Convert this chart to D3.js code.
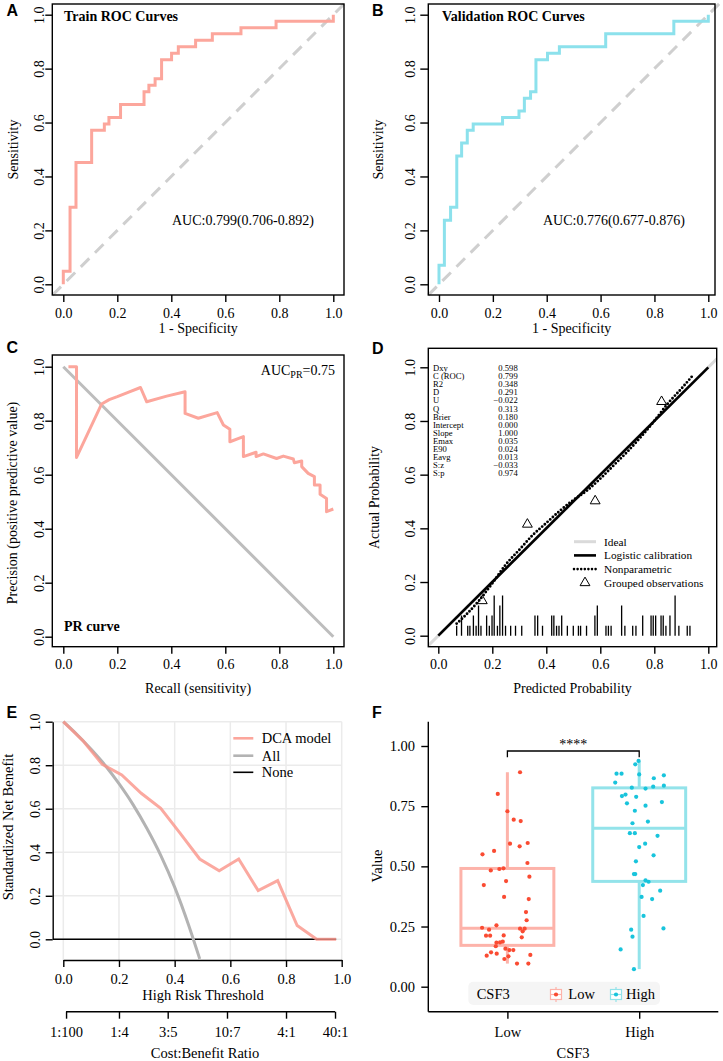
<!DOCTYPE html>
<html><head><meta charset="utf-8">
<script src="https://cdn.jsdelivr.net/npm/d3@7"></script>
<style>body{margin:0;background:#fff}svg{display:block}</style>
</head><body><svg id="c" width="723" height="1061"></svg>
<script>
// ---------------- DATA ----------------
const axisTicks = [0, 0.2, 0.4, 0.6, 0.8, 1.0];
// A: training ROC (staircase vertices)
const trainFpr = [0, 0, 0.025, 0.047, 0.105, 0.152, 0.169, 0.212, 0.299, 0.317, 0.340, 0.364, 0.401, 0.426, 0.490, 0.552, 0.658, 0.788, 1.0, 1.0];
const trainTpr = [0, 0.048, 0.286, 0.452, 0.571, 0.595, 0.619, 0.667, 0.714, 0.738, 0.762, 0.833, 0.857, 0.881, 0.905, 0.929, 0.952, 0.976, 0.976, 1.0];
const trainAuc = "AUC:0.799(0.706-0.892)";
// B: validation ROC
const validFpr = [0, 0, 0.020, 0.043, 0.066, 0.084, 0.105, 0.127, 0.236, 0.297, 0.317, 0.340, 0.360, 0.403, 0.447, 0.619, 0.872, 1.0, 1.0];
const validTpr = [0, 0.071, 0.238, 0.286, 0.476, 0.524, 0.571, 0.595, 0.619, 0.643, 0.690, 0.714, 0.833, 0.857, 0.881, 0.929, 0.976, 0.976, 1.0];
const validAuc = "AUC:0.776(0.677-0.876)";
// C: PR curve
const prRecall = [0.019, 0.049, 0.049, 0.142, 0.17, 0.2, 0.24, 0.286, 0.309, 0.383, 0.451, 0.451, 0.5, 0.57, 0.593, 0.617, 0.617, 0.667, 0.667, 0.714, 0.714, 0.741, 0.79, 0.815, 0.852, 0.856, 0.883, 0.883, 0.907, 0.93, 0.93, 0.951, 0.951, 0.975, 0.975, 1.0];
const prPrecision = [1.0, 1.0, 0.664, 0.862, 0.878, 0.889, 0.905, 0.923, 0.870, 0.891, 0.907, 0.827, 0.809, 0.830, 0.784, 0.768, 0.722, 0.741, 0.667, 0.683, 0.667, 0.677, 0.660, 0.669, 0.658, 0.644, 0.651, 0.630, 0.605, 0.593, 0.562, 0.562, 0.528, 0.512, 0.463, 0.473];
// D: calibration
const statLabels = ["Dxy","C (ROC)","R2","D","U","Q","Brier","Intercept","Slope","Emax","E90","Eavg","S:z","S:p"];
const statValues = ["0.598","0.799","0.348","0.291","\u22120.022","0.313","0.180","0.000","1.000","0.035","0.024","0.013","\u22120.033","0.974"];
const npPred = [0.068, 0.1, 0.15, 0.2, 0.25, 0.3, 0.35, 0.4, 0.45, 0.5, 0.55, 0.6, 0.65, 0.7, 0.75, 0.8, 0.85, 0.9, 0.943];
const npActual = [0.045, 0.075, 0.13, 0.195, 0.265, 0.32, 0.375, 0.42, 0.465, 0.505, 0.54, 0.585, 0.635, 0.685, 0.74, 0.80, 0.865, 0.92, 0.97];
const groupPred = [0.163, 0.33, 0.581, 0.827];
const groupActual = [0.13, 0.415, 0.502, 0.872];
const rugPred = [0.068,0.086,0.109,0.117,0.130,0.140,0.149,0.158,0.179,0.189,0.199,0.207,0.219,0.228,0.238,0.249,0.268,0.286,0.309,0.358,0.368,0.386,0.420,0.428,0.438,0.447,0.457,0.478,0.500,0.519,0.527,0.549,0.580,0.589,0.621,0.630,0.640,0.679,0.691,0.720,0.732,0.757,0.788,0.796,0.805,0.825,0.833,0.843,0.858,0.877,0.891,0.922,0.932];
const rugCount = [1,2,1,1,2,1,3,1,2,1,2,4,1,3,4,1,1,1,1,2,2,1,2,2,1,1,2,1,1,1,1,1,2,3,1,1,1,3,1,1,1,2,2,2,2,2,2,1,2,4,1,1,1];
const calLegend = ["Ideal","Logistic calibration","Nonparametric","Grouped observations"];
// E: decision curve
const dcaThresh = [0, 0.07, 0.14, 0.21, 0.28, 0.35, 0.42, 0.49, 0.56, 0.63, 0.70, 0.77, 0.84, 0.91, 0.98];
const dcaModel = [1.0, 0.913, 0.804, 0.755, 0.671, 0.602, 0.487, 0.369, 0.315, 0.369, 0.224, 0.270, 0.063, 0.0, 0.0];
const allThresh = [0, 0.05, 0.10, 0.15, 0.20, 0.25, 0.30, 0.35, 0.40, 0.45, 0.49];
const allNB = [1.0, 0.94, 0.873, 0.80, 0.715, 0.62, 0.51, 0.386, 0.24, 0.066, -0.09];
const costTicks = [0.0099, 0.2, 0.375, 0.588, 0.8, 0.976];
const costLabels = ["1:100","1:4","3:5","10:7","4:1","40:1"];
const dcaLegend = ["DCA model","All","None"];
// F: boxplot
const groups = ["Low","High"];
const lowValues = [0.891,0.801,0.729,0.694,0.688,0.594,0.583,0.597,0.55,0.564,0.514,0.483,0.489,0.492,0.457,0.439,0.422,0.373,0.364,0.310,0.276,0.245,0.255,0.237,0.241,0.241,0.230,0.212,0.212,0.213,0.205,0.183,0.184,0.187,0.168,0.158,0.152,0.152,0.143,0.137,0.129,0.126,0.115,0.132,0.096,0.096];
const lowJitter = [0.096,-0.073,0,0.048,0.101,0.020,0.093,0.154,-0.189,-0.101,0.152,-0.126,-0.061,-0.030,0.167,-0.010,-0.179,-0.025,0.162,0.141,0.146,-0.192,-0.083,-0.139,0.096,0.131,0.116,-0.162,-0.131,-0.028,0.109,-0.083,-0.056,-0.035,-0.088,-0.015,0.015,0.045,-0.124,-0.081,-0.157,0.008,-0.023,0.174,0.073,0.159];
const highValues = [0.938,0.924,0.885,0.885,0.882,0.866,0.878,0.848,0.827,0.823,0.831,0.835,0.792,0.798,0.789,0.762,0.767,0.752,0.731,0.686,0.679,0.638,0.638,0.627,0.594,0.580,0.546,0.521,0.468,0.468,0.442,0.436,0.422,0.399,0.373,0.364,0.294,0.242,0.237,0.208,0.155,0.073];
const highJitter = [-0.005,-0.030,-0.172,-0.134,0,0.111,0.187,-0.182,-0.056,0.048,0.106,0.187,-0.131,-0.104,-0.023,-0.093,0.172,0.048,-0.033,0.066,-0.051,-0.071,-0.033,0.139,0.045,0,0.109,-0.025,-0.030,-0.040,0.048,0.071,0.028,0.159,0.018,0.098,0.033,0.184,-0.061,-0.051,-0.141,-0.040];
const fTicks = [0, 0.25, 0.5, 0.75, 1.0];

// ---------------- HELPERS ----------------
const svg = d3.select("#c");
const SERIF = '"Liberation Serif","Times New Roman",serif';
const SANS = '"Liberation Sans",Arial,sans-serif';
const SALMON = "#FCA69C", CYAN = "#8CE1EC";
const f1 = d3.format(".1f"), f2 = d3.format(".2f");

function txt(x, y, s, o = {}) {
  return svg.append("text").attr("x", x).attr("y", y)
    .attr("font-family", o.ff || SERIF).attr("font-size", o.fs || 14)
    .attr("font-weight", o.fw || "normal").attr("text-anchor", o.anchor || "start")
    .attr("fill", o.fill || "#000").attr("dy", o.dy || null).text(s);
}
function rtxt(x, y, s, o = {}) {
  return svg.append("text").attr("transform", `translate(${x},${y}) rotate(-90)`)
    .attr("font-family", SERIF).attr("font-size", o.fs || 14).attr("text-anchor", "middle")
    .attr("dy", "0.35em").attr("fill", "#000").text(s);
}
function letter(x, y, s) { txt(x, y, s, {ff: SANS, fw: "bold", fs: 16}); }
function box(b) {
  svg.append("rect").attr("x", b.l).attr("y", b.t).attr("width", b.r - b.l).attr("height", b.b - b.t)
    .attr("fill", "none").attr("stroke", "#000").attr("stroke-width", 1.4);
}
function bottomAxis(scale, y, ticks, fmt, labOff, o = {}) {
  const ax = d3.axisBottom(scale).tickValues(ticks).tickFormat(fmt).tickSize(o.ts || 7).tickSizeOuter(0);
  const g = svg.append("g").attr("transform", `translate(0,${y})`).call(ax)
    .attr("font-family", SERIF).attr("font-size", o.fs || 14);
  if (o.domain) g.select(".domain").attr("stroke", "#000").attr("stroke-width", 1.4);
  else g.select(".domain").remove();
  g.selectAll(".tick line").attr("stroke", "#000").attr("stroke-width", 1.4);
  g.selectAll(".tick text").attr("fill", "#000").attr("y", labOff).attr("dy", "0.35em");
  return g;
}
function leftAxisRot(scale, x, ticks, fmt, labOff, o = {}) {
  const ax = d3.axisLeft(scale).tickValues(ticks).tickFormat(fmt).tickSize(o.ts || 7).tickSizeOuter(0);
  const g = svg.append("g").attr("transform", `translate(${x},0)`).call(ax)
    .attr("font-family", SERIF).attr("font-size", o.fs || 14);
  if (o.domain) g.select(".domain").attr("stroke", "#000").attr("stroke-width", 1.4);
  else g.select(".domain").remove();
  g.selectAll(".tick line").attr("stroke", "#000").attr("stroke-width", 1.4);
  g.selectAll(".tick text").attr("fill", "#000").attr("transform", "rotate(-90)")
    .attr("x", 0).attr("y", -labOff).attr("dy", "0.35em").attr("text-anchor", "middle");
  return g;
}

// ---------------- A & B: ROC ----------------
function rocPanel(p) {
  const x = d3.scaleLinear().domain([0, 1]).range(p.xr);
  const y = d3.scaleLinear().domain([0, 1]).range(p.yr);
  svg.append("path").attr("d", d3.line()([[x(-0.04), y(-0.04)], [x(1.04), y(1.04)]]))
    .attr("stroke", "#CFCFCF").attr("stroke-width", 3).attr("stroke-dasharray", "12,8").attr("fill", "none");
  const pts = p.fpr.map((f, i) => [f, p.tpr[i]]);
  svg.append("path").datum(pts)
    .attr("d", d3.line().x(d => x(d[0])).y(d => y(d[1])).curve(d3.curveStepAfter))
    .attr("stroke", p.color).attr("stroke-width", 3).attr("fill", "none");
  box(p.box);
  bottomAxis(x, p.box.b, axisTicks, f1, 18);
  leftAxisRot(y, p.box.l, axisTicks, f1, p.ylo, {ts: p.ts});
  txt(p.titleX, 20.5, p.title, {fw: "bold", fs: 14});
  txt(p.aucX, 225, p.auc, {fs: 14});
  txt((p.box.l + p.box.r) / 2, 333, "1 - Specificity", {anchor: "middle"});
  rtxt(p.ylabX, (p.box.t + p.box.b) / 2, "Sensitivity");
}
rocPanel({box: {l: 52.3, r: 344, t: 4, b: 295}, xr: [63.3, 333.3], yr: [284.3, 14.7], fpr: trainFpr, tpr: trainTpr,
  color: SALMON, title: "Train ROC Curves", titleX: 64, auc: trainAuc, aucX: 172, ylabX: 13, ylo: 13.3, ts: 7});
rocPanel({box: {l: 428.3, r: 715, t: 4, b: 295}, xr: [439, 708.3], yr: [284.3, 14.7], fpr: validFpr, tpr: validTpr,
  color: CYAN, title: "Validation ROC Curves", titleX: 442, auc: validAuc, aucX: 543, ylabX: 378, ylo: 18.3, ts: 8});
letter(6.5, 16, "A"); letter(372, 16, "B");

// ---------------- C: PR ----------------
(function () {
  const b = {l: 52.3, r: 344, t: 355, b: 646.7};
  const x = d3.scaleLinear().domain([0, 1]).range([63.3, 333.3]);
  const y = d3.scaleLinear().domain([0, 1]).range([636.7, 366.7]);
  svg.append("path").attr("d", d3.line()([[x(0), y(1)], [x(1), y(0)]]))
    .attr("stroke", "#BDBDBD").attr("stroke-width", 3).attr("fill", "none");
  svg.append("path").datum(prRecall.map((r, i) => [r, prPrecision[i]]))
    .attr("d", d3.line().x(d => x(d[0])).y(d => y(d[1])))
    .attr("stroke", SALMON).attr("stroke-width", 3).attr("fill", "none").attr("stroke-linejoin", "round");
  box(b);
  bottomAxis(x, b.b, axisTicks, f1, 17.5);
  leftAxisRot(y, b.l, axisTicks, f1, 13.3);
  const t = svg.append("text").attr("x", 335).attr("y", 375).attr("text-anchor", "end")
    .attr("font-family", SERIF).attr("font-size", 14);
  t.append("tspan").text("AUC");
  t.append("tspan").attr("font-size", 10).attr("dy", 3).text("PR");
  t.append("tspan").attr("dy", -3).text("=0.75");
  txt(64, 631, "PR curve", {fw: "bold"});
  txt((b.l + b.r) / 2, 692.5, "Recall (sensitivity)", {anchor: "middle"});
  rtxt(12.5, 503, "Precision (positive predictive value)");
  letter(6.5, 353, "C");
})();

// ---------------- D: calibration ----------------
(function () {
  const b = {l: 428.3, r: 716.7, t: 348.3, b: 646.7};
  const x = d3.scaleLinear().domain([0, 1]).range([438.3, 708.3]);
  const y = d3.scaleLinear().domain([0, 1]).range([635.7, 367.3]);
  svg.append("clipPath").attr("id", "clipD").append("rect")
    .attr("x", b.l).attr("y", b.t).attr("width", b.r - b.l).attr("height", b.b - b.t);
  const g = svg.append("g").attr("clip-path", "url(#clipD)");
  g.append("path").attr("d", d3.line()([[x(-0.1), y(-0.1)], [x(1.1), y(1.1)]]))
    .attr("stroke", "#DADADA").attr("stroke-width", 3);
  // rug
  g.selectAll("line.rug").data(rugPred).join("line").attr("class", "rug")
    .attr("x1", d => x(d)).attr("x2", d => x(d)).attr("y1", y(0))
    .attr("y2", (d, i) => y(rugCount[i] * 0.0375)).attr("stroke", "#000").attr("stroke-width", 1.3);
  g.append("path").attr("d", d3.line()([[x(0), y(0)], [x(1), y(1)]]))
    .attr("stroke", "#000").attr("stroke-width", 2.6);
  g.append("path").datum(npPred.map((p, i) => [p, npActual[i]]))
    .attr("d", d3.line().x(d => x(d[0])).y(d => y(d[1])).curve(d3.curveMonotoneX))
    .attr("stroke", "#000").attr("stroke-width", 2.9).attr("stroke-linecap", "round")
    .attr("stroke-dasharray", "0,3.6").attr("fill", "none");
  g.selectAll("path.tri").data(groupPred).join("path").attr("class", "tri")
    .attr("transform", (d, i) => `translate(${x(d)},${y(groupActual[i])})`)
    .attr("d", d3.symbol(d3.symbolTriangle, 42)).attr("fill", "none").attr("stroke", "#000").attr("stroke-width", 1);
  box(b);
  bottomAxis(x, b.b, axisTicks, f1, 17.5);
  leftAxisRot(y, b.l, axisTicks, f1, 18.3, {ts: 8});
  // stats
  statLabels.forEach((s, i) => {
    txt(433, 371 + i * 8.1, s, {fs: 8.6});
    txt(517.7, 371 + i * 8.1, statValues[i], {fs: 8.6, anchor: "end"});
  });
  // legend
  const ly = [541.7, 555.4, 569.1, 582.8];
  svg.append("line").attr("x1", 574).attr("x2", 596).attr("y1", ly[0]).attr("y2", ly[0]).attr("stroke", "#DADADA").attr("stroke-width", 3);
  svg.append("line").attr("x1", 574).attr("x2", 596).attr("y1", ly[1]).attr("y2", ly[1]).attr("stroke", "#000").attr("stroke-width", 2.6);
  svg.append("line").attr("x1", 574).attr("x2", 596).attr("y1", ly[2]).attr("y2", ly[2]).attr("stroke", "#000")
    .attr("stroke-width", 2.6).attr("stroke-linecap", "round").attr("stroke-dasharray", "0,3.6");
  svg.append("path").attr("transform", `translate(585,${ly[3]})`).attr("d", d3.symbol(d3.symbolTriangle, 42))
    .attr("fill", "none").attr("stroke", "#000");
  calLegend.forEach((s, i) => txt(604, ly[i], s, {fs: 11.3, dy: "0.35em"}));
  txt((b.l + b.r) / 2, 692.5, "Predicted Probability", {anchor: "middle"});
  rtxt(374, (b.t + b.b) / 2, "Actual Probability");
  letter(372, 354, "D");
})();

// ---------------- E: DCA ----------------
(function () {
  const x = d3.scaleLinear().domain([0, 1]).range([63.3, 341.7]);
  const y = d3.scaleLinear().domain([0, 1]).range([939.3, 721.7]);
  const bottom = 960, left = 52.7;
  // grid
  svg.selectAll("line.gv").data(axisTicks).join("line").attr("class", "gv")
    .attr("x1", d => x(d)).attr("x2", d => x(d)).attr("y1", y(1)).attr("y2", bottom)
    .attr("stroke", "#EBEBEB").attr("stroke-width", 1.5);
  svg.selectAll("line.gh").data(axisTicks).join("line").attr("class", "gh")
    .attr("x1", left).attr("x2", x(1)).attr("y1", d => y(d)).attr("y2", d => y(d))
    .attr("stroke", "#EBEBEB").attr("stroke-width", 1.5);
  svg.append("clipPath").attr("id", "clipE").append("rect")
    .attr("x", left).attr("y", 700).attr("width", 300).attr("height", bottom - 700);
  const g = svg.append("g").attr("clip-path", "url(#clipE)");
  g.append("line").attr("x1", left).attr("x2", x(0.98)).attr("y1", y(0)).attr("y2", y(0))
    .attr("stroke", "#000").attr("stroke-width", 1.5);
  g.append("path").datum(allThresh.map((t, i) => [t, allNB[i]]))
    .attr("d", d3.line().x(d => x(d[0])).y(d => y(d[1])).curve(d3.curveMonotoneX))
    .attr("stroke", "#B3B3B3").attr("stroke-width", 3).attr("fill", "none");
  g.append("path").datum(dcaThresh.map((t, i) => [t, dcaModel[i]]))
    .attr("d", d3.line().x(d => x(d[0])).y(d => y(d[1])))
    .attr("stroke", "#FA9488").attr("stroke-opacity", 0.8).attr("stroke-width", 3).attr("fill", "none");
  leftAxisRot(y, left, axisTicks, f1, 17.7, {domain: true});
  bottomAxis(x, bottom, axisTicks, f1, 18.5, {domain: true, fs: 14.5});
  txt(203, 995, "High Risk Threshold", {anchor: "middle", dy: "0.35em", fs: 14.5});
  bottomAxis(x, 1011.7, costTicks, (d, i) => costLabels[i], 20, {fs: 14.5});
  svg.append("line").attr("x1", x(costTicks[0])).attr("x2", x(costTicks[5])).attr("y1", 1011.7).attr("y2", 1011.7)
    .attr("stroke", "#000").attr("stroke-width", 1.4);
  txt(205, 1053, "Cost:Benefit Ratio", {anchor: "middle", dy: "0.35em", fs: 14.5});
  rtxt(8, 827, "Standardized Net Benefit", {fs: 14.5});
  // legend
  const ly = [738.3, 755.7, 772.3], lc = ["#FCA69C", "#B3B3B3", "#000"];
  ly.forEach((yy, i) => {
    svg.append("line").attr("x1", 233.3).attr("x2", 253.3).attr("y1", yy).attr("y2", yy)
      .attr("stroke", lc[i]).attr("stroke-width", i === 2 ? 1.6 : 2.6);
    txt(261.7, yy, dcaLegend[i], {fs: 14.5, dy: "0.35em"});
  });
  letter(6.5, 718, "E");
})();

// ---------------- F: boxplot ----------------
(function () {
  const x = d3.scalePoint().domain(groups).range([428.3, 718.3]).padding(0.6);
  const y = d3.scaleLinear().domain([0, 1]).range([986.7, 746]);
  const step = x.step();
  const bw = 0.705 * step;
  const data = {Low: {v: lowValues, j: lowJitter, c: "#FDB3AA", p: "#FA4B32"},
                High: {v: highValues, j: highJitter, c: "#93E3EA", p: "#18C4DC"}};
  groups.forEach(gname => {
    const d = data[gname];
    const s = d.v.slice().sort(d3.ascending);
    const q1 = d3.quantile(s, 0.25), med = d3.quantile(s, 0.5), q3 = d3.quantile(s, 0.75);
    const iqr = q3 - q1;
    const lo = d3.min(s.filter(v => v >= q1 - 1.5 * iqr)), hi = d3.max(s.filter(v => v <= q3 + 1.5 * iqr));
    const cx = x(gname);
    const g = svg.append("g");
    g.append("line").attr("x1", cx).attr("x2", cx).attr("y1", y(hi)).attr("y2", y(q3)).attr("stroke", d.c).attr("stroke-width", 3);
    g.append("line").attr("x1", cx).attr("x2", cx).attr("y1", y(q1)).attr("y2", y(lo)).attr("stroke", d.c).attr("stroke-width", 3);
    g.append("rect").attr("x", cx - bw / 2).attr("y", y(q3)).attr("width", bw).attr("height", y(q1) - y(q3))
      .attr("fill", "none").attr("stroke", d.c).attr("stroke-width", 3);
    g.append("line").attr("x1", cx - bw / 2).attr("x2", cx + bw / 2).attr("y1", y(med)).attr("y2", y(med))
      .attr("stroke", d.c).attr("stroke-width", 3);
    g.selectAll("circle").data(d.v).join("circle")
      .attr("cx", (v, i) => cx + d.j[i] * step).attr("cy", v => y(v)).attr("r", 2.1).attr("fill", d.p);
  });
  // axes
  svg.append("line").attr("x1", 428.3).attr("x2", 428.3).attr("y1", 721.7).attr("y2", 1011.7).attr("stroke", "#000").attr("stroke-width", 1.4);
  svg.append("line").attr("x1", 428.3).attr("x2", 718.3).attr("y1", 1011.7).attr("y2", 1011.7).attr("stroke", "#000").attr("stroke-width", 1.4);
  const ay = svg.append("g").attr("transform", "translate(428.3,0)")
    .call(d3.axisLeft(y).tickValues(fTicks).tickFormat(f2).tickSize(7).tickSizeOuter(0))
    .attr("font-family", SERIF).attr("font-size", 14.5);
  ay.select(".domain").remove();
  ay.selectAll(".tick line").attr("stroke", "#000").attr("stroke-width", 1.4);
  ay.selectAll(".tick text").attr("fill", "#000").attr("x", -13.3);
  const ax = svg.append("g").attr("transform", "translate(0,1011.7)")
    .call(d3.axisBottom(x).tickSize(7).tickSizeOuter(0))
    .attr("font-family", SERIF).attr("font-size", 14.5);
  ax.select(".domain").remove();
  ax.selectAll(".tick line").attr("stroke", "#000").attr("stroke-width", 1.4);
  ax.selectAll(".tick text").attr("fill", "#000").attr("y", 20).attr("dy", "0.35em");
  txt(573, 1053, "CSF3", {anchor: "middle", dy: "0.35em", fs: 14.5});
  rtxt(377, 866, "Value", {fs: 14.5});
  // significance
  const xl = x("Low"), xh = x("High");
  svg.append("path").attr("d", d3.line()([[xl, 757.3], [xl, 751], [xh, 751], [xh, 757.3]]))
    .attr("stroke", "#000").attr("stroke-width", 1.3).attr("fill", "none");
  txt((xl + xh) / 2, 749, "****", {anchor: "middle", fs: 14});
  // legend
  svg.append("rect").attr("x", 468.3).attr("y", 981.7).attr("width", 191.7).attr("height", 23.3).attr("rx", 5)
    .attr("fill", "#F5F5F5");
  txt(476.7, 993.5, "CSF3", {dy: "0.35em", fs: 14.5});
  [[556, "Low"], [616, "High"]].forEach(([kx, gname]) => {
    const d = data[gname];
    svg.append("line").attr("x1", kx).attr("x2", kx).attr("y1", 987).attr("y2", 1002).attr("stroke", d.c).attr("stroke-width", 1.2);
    svg.append("rect").attr("x", kx - 5.5).attr("y", 989.5).attr("width", 11).attr("height", 10)
      .attr("fill", "#fff").attr("stroke", d.c).attr("stroke-width", 1.2);
    svg.append("line").attr("x1", kx - 5.5).attr("x2", kx + 5.5).attr("y1", 994.5).attr("y2", 994.5).attr("stroke", d.c).attr("stroke-width", 1.2);
    svg.append("circle").attr("cx", kx).attr("cy", 994.5).attr("r", 2.1).attr("fill", d.p);
    txt(kx + (gname === "Low" ? 12.3 : 10), 994, gname, {dy: "0.35em", fs: 14.5});
  });
  letter(372, 718, "F");
})();
</script></body></html>
